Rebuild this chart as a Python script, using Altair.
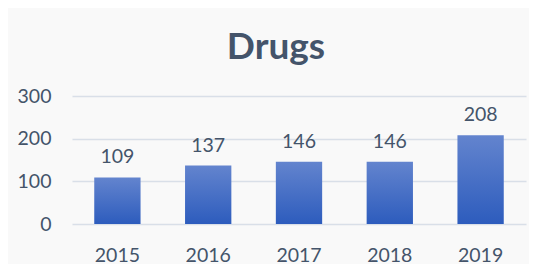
import altair as alt
import pandas as pd

years = ["2015", "2016", "2017", "2018", "2019"]
counts = [109, 137, 146, 146, 208]
y_ticks = [0, 100, 200, 300]

df = pd.DataFrame({"year": years, "count": counts})

TEXT = "#44546A"
FONT = "Lato"

grad = alt.Gradient(
    gradient="linear",
    stops=[alt.GradientStop(color="#6384CE", offset=0),
           alt.GradientStop(color="#2D5CBD", offset=1)],
    x1=0, x2=0, y1=0, y2=1,
)

base = alt.Chart(df).encode(
    x=alt.X("year:N", sort=years,
            scale=alt.Scale(paddingInner=0.49, paddingOuter=0.245),
            axis=alt.Axis(title=None, labelAngle=0, ticks=False, domain=False, grid=False,
                          labelFont=FONT, labelFontSize=19.5, labelColor=TEXT,
                          labelBaseline="alphabetic", labelPadding=37)),
    y=alt.Y("count:Q", scale=alt.Scale(domain=[0, 300], nice=False),
            axis=alt.Axis(title=None, values=y_ticks, ticks=False, domain=False,
                          gridColor="#D9DFE8", gridWidth=1.5,
                          labelFont=FONT, labelFontSize=19.5, labelColor=TEXT,
                          labelPadding=21)),
)

bars = base.mark_bar(color=grad)
labels = base.mark_text(dy=-14, baseline="alphabetic", font=FONT, fontSize=19.5,
                        color=TEXT).encode(text="count:Q")

chart = (bars + labels).properties(
    width=454, height=128,
    title=alt.TitleParams("Drugs", font=FONT, fontSize=37, fontWeight="bold", color=TEXT,
                          anchor="middle", frame="group", baseline="alphabetic",
                          offset=37, dx=-23, dy=47),
    autosize=alt.AutoSizeParams(type="none"),
    padding={"left": 64, "top": 88, "right": 3, "bottom": 40},
    background="#F9F9F9",
).configure_view(stroke=None)

chart.save("out.html", embed_options={"renderer": "svg", "actions": False})
